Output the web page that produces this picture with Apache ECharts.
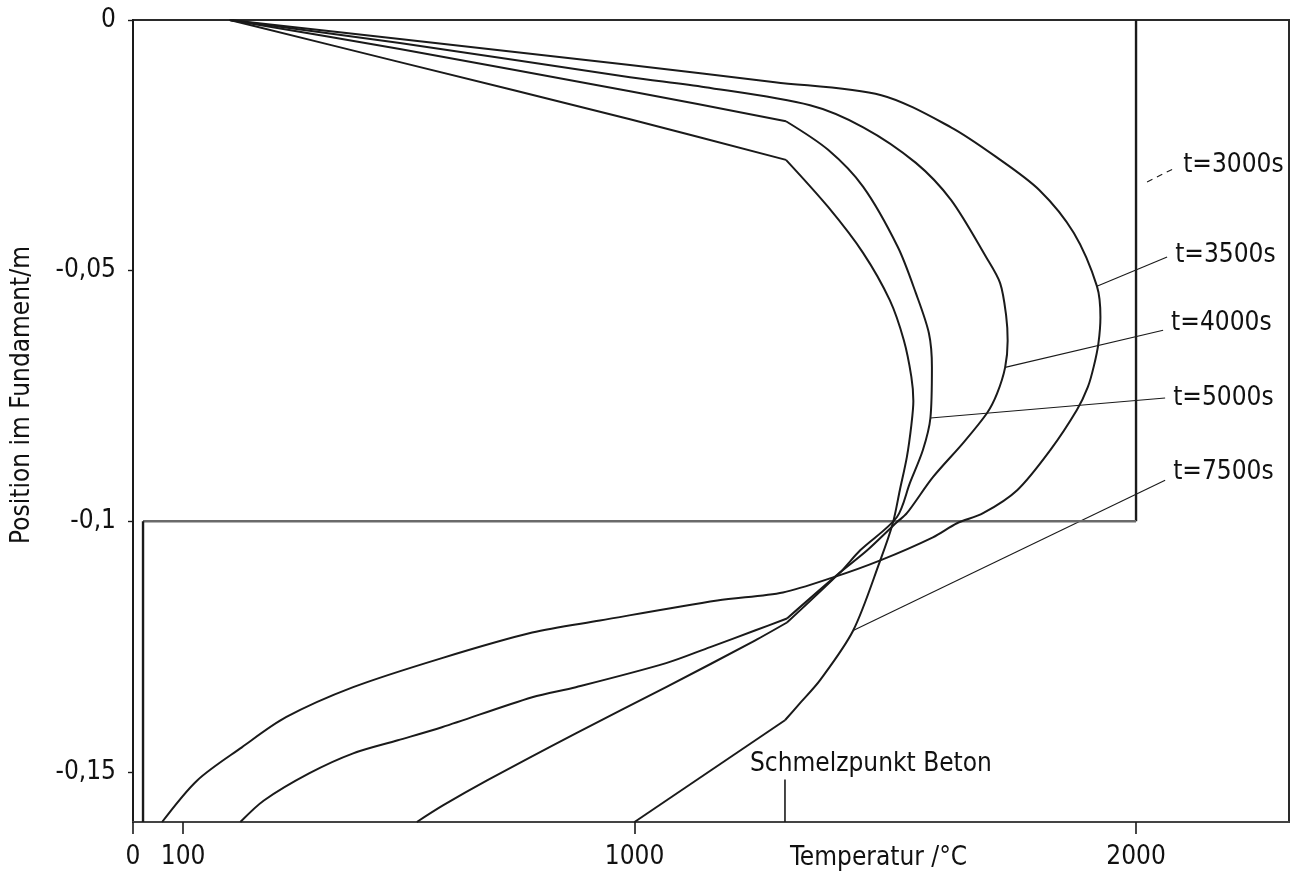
<!DOCTYPE html>
<html>
<head>
<meta charset="utf-8">
<script src="https://cdn.jsdelivr.net/npm/echarts@6/dist/echarts.min.js"></script>
<style>
  html, body { margin: 0; padding: 0; background: #ffffff; }
  #chart { width: 1292px; height: 877px; }
</style>
</head>
<body>
<div id="chart"></div>
<script>
// Temperature profiles in the concrete foundation (°C vs. position in m)
const tempTicks = [0, 100, 1000, 2000];
const posTicks = [0, -0.05, -0.1, -0.15];
const meltTemp = 1300;            // melting point of concrete, °C
const meltTickTop = -0.1515;      // upper end of the melting-point marker

const t3000 = [[2000, 0], [2000, -0.1], [20, -0.1], [20, -0.16]];

const t3500 = [[193, 0], [532, -0.0038], [991, -0.009], [1280, -0.0124], [1492, -0.015],
  [1631, -0.0214], [1721, -0.0273], [1807, -0.0339], [1876, -0.0425], [1922, -0.0531],
  [1929, -0.0593], [1925, -0.0645], [1916, -0.069], [1904, -0.0732], [1882, -0.0778],
  [1829, -0.0858], [1763, -0.0938], [1695, -0.0984], [1643, -0.1004], [1595, -0.1032],
  [1490, -0.1078], [1396, -0.1112], [1296, -0.1142], [1165, -0.1158], [931, -0.1198],
  [796, -0.1222], [616, -0.1273], [439, -0.1331], [305, -0.1391], [217, -0.1451],
  [128, -0.1517], [58, -0.16]];

const t4000 = [[193, 0], [532, -0.0046], [991, -0.0114], [1141, -0.0134], [1350, -0.017],
  [1456, -0.0214], [1561, -0.0285], [1631, -0.0359], [1701, -0.0473], [1729, -0.0525],
  [1741, -0.059], [1744, -0.064], [1739, -0.0693], [1723, -0.0745], [1703, -0.0784],
  [1655, -0.0844], [1595, -0.0912], [1543, -0.0984], [1523, -0.1002], [1464, -0.1058],
  [1410, -0.1102], [1304, -0.1194], [1240, -0.1218], [1151, -0.1251], [1063, -0.1283],
  [883, -0.1331], [796, -0.1351], [616, -0.1411], [528, -0.1437], [439, -0.1463],
  [351, -0.1503], [261, -0.1557], [214, -0.16]];

const t5000 = [[193, 0], [532, -0.0058], [991, -0.0142], [1302, -0.0202], [1386, -0.0259],
  [1456, -0.0333], [1525, -0.0453], [1561, -0.0545], [1587, -0.0625], [1593, -0.0693],
  [1590, -0.0794], [1575, -0.0858], [1549, -0.0924], [1523, -0.0992], [1450, -0.1058],
  [1410, -0.1102], [1304, -0.1202], [1240, -0.1238], [1063, -0.1331], [883, -0.1423],
  [706, -0.1517], [618, -0.1567], [566, -0.16]];

const t7500 = [[193, 0], [532, -0.0084], [991, -0.0198], [1302, -0.0279], [1386, -0.0373],
  [1456, -0.0465], [1509, -0.0559], [1537, -0.0639], [1552, -0.0712], [1556, -0.076],
  [1552, -0.0808], [1543, -0.0872], [1529, -0.0938], [1515, -0.1004], [1490, -0.1078],
  [1436, -0.1218], [1370, -0.1317], [1330, -0.1363], [1300, -0.1397], [1000, -0.16]];

// Leader lines from each curve to its time label: [from, to] in °C / m
const lead3000 = [[2022, -0.0323], [2078, -0.0295]];
const lead3500 = [[1922, -0.0531], [2062, -0.0473]];
const lead4000 = [[1739, -0.0693], [2054, -0.0619]];
const lead5000 = [[1590, -0.0794], [2058, -0.0754]];
const lead7500 = [[1436, -0.1218], [2058, -0.0918]];

const FONT = "'DejaVu Sans Condensed', 'Liberation Sans Narrow', 'DejaVu Sans', sans-serif";
const FS = 26;
const INK = '#1a1a1a';

// Each profile is drawn smooth between its break points (melting front kinks)
const profiles = [
  { name: 't=3000s', data: t3000, breaks: [1, 2], smooth: false },
  { name: 't=3500s', data: t3500, breaks: [], smooth: true },
  { name: 't=4000s', data: t4000, breaks: [21], smooth: true },
  { name: 't=5000s', data: t5000, breaks: [3, 16], smooth: true },
  { name: 't=7500s', data: t7500, breaks: [3, 18], smooth: true }
];

const leaders = [
  { text: 't=3000s', data: lead3000, dashed: true, dy: -3 },
  { text: 't=3500s', data: lead3500, dashed: false, dy: -2 },
  { text: 't=4000s', data: lead4000, dashed: false, dy: -7 },
  { text: 't=5000s', data: lead5000, dashed: false, dy: 0 },
  { text: 't=7500s', data: lead7500, dashed: false, dy: -8 }
];

function pieces(data, breaks) {
  const cuts = [0].concat(breaks, [data.length - 1]);
  const out = [];
  for (let i = 0; i < cuts.length - 1; i++) out.push(data.slice(cuts[i], cuts[i + 1] + 1));
  return out;
}

const series = [];
profiles.forEach(p => {
  pieces(p.data, p.breaks).forEach(part => {
    const flat = part.length === 2 && part[0][1] === part[1][1];
    series.push({
      type: 'line', name: p.name, data: part,
      symbol: 'none', silent: true, z: 3,
      smooth: p.smooth ? 0.3 : false,
      lineStyle: {
        color: flat ? '#6a6a6a' : INK,
        width: p.smooth ? 2 : (flat ? 2.6 : 2.4),
        join: 'round'
      }
    });
  });
});
leaders.forEach(l => {
  series.push({
    type: 'line', data: l.data, symbol: 'none', silent: true, z: 2,
    lineStyle: { color: INK, width: 1.1, type: l.dashed ? [6, 5] : 'solid' },
    endLabel: {
      show: true, formatter: l.text, distance: 8, offset: [0, l.dy],
      color: '#111', fontFamily: FONT, fontSize: FS
    }
  });
});
// Melting-point marker on the temperature axis
series.push({
  type: 'line', data: [[meltTemp, -0.16], [meltTemp, meltTickTop]],
  symbol: 'none', silent: true, z: 2,
  lineStyle: { color: INK, width: 1.6 },
  endLabel: {
    show: true, formatter: 'Schmelzpunkt Beton', distance: 0, offset: [-35, -15],
    color: '#111', fontFamily: FONT, fontSize: FS
  }
});

const chart = echarts.init(document.getElementById('chart'), null, { renderer: 'canvas' });
chart.setOption({
  animation: false,
  backgroundColor: '#ffffff',
  textStyle: { fontFamily: FONT },
  grid: {
    left: 133, right: 3, top: 20, bottom: 55,
    show: true, borderColor: '#2a2a2a', borderWidth: 2, backgroundColor: 'transparent'
  },
  xAxis: {
    type: 'value', min: 0, max: 2305,
    splitLine: { show: false },
    axisLine: { show: true, onZero: false, lineStyle: { color: '#444', width: 2 } },
    axisTick: { show: true, customValues: tempTicks, length: 12, inside: false,
      lineStyle: { color: INK, width: 1.6 } },
    axisLabel: { customValues: tempTicks, margin: 22, color: '#111',
      fontFamily: FONT, fontSize: FS, formatter: v => String(v) }
  },
  yAxis: {
    type: 'value', min: -0.16, max: 0,
    splitLine: { show: false },
    axisLine: { show: true, onZero: false, lineStyle: { color: INK, width: 2 } },
    axisTick: { show: true, customValues: posTicks, length: 5,
      lineStyle: { color: INK, width: 1.4 } },
    axisLabel: { customValues: posTicks, margin: 17, color: '#111',
      fontFamily: FONT, fontSize: FS,
      formatter: v => (v === 0 ? '0' : String(v).replace('.', ',')) }
  },
  graphic: [
    { type: 'text', left: 790, top: 845, silent: true,
      style: { text: 'Temperatur /°C', fill: '#111', font: FS + 'px ' + FONT } },
    { type: 'text', x: 22, y: 395, rotation: Math.PI / 2, silent: true,
      style: { text: 'Position im Fundament/m', fill: '#111', font: FS + 'px ' + FONT,
        align: 'center', verticalAlign: 'middle' } }
  ],
  series: series
});
</script>
</body>
</html>
